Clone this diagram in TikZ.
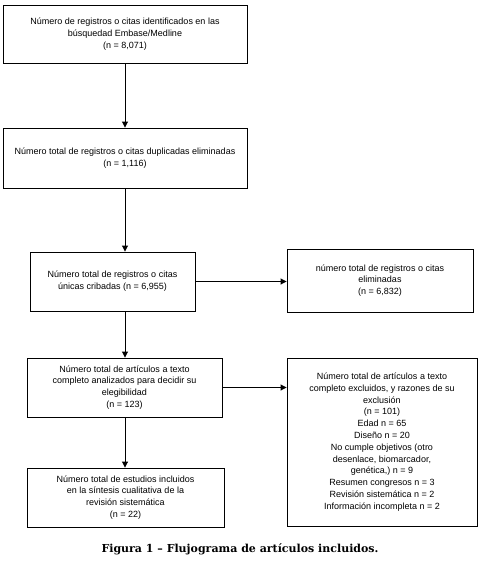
\documentclass[tikz,border=0pt]{standalone}
\usepackage{fontspec}
\setmainfont{Liberation Sans}
\newfontfamily\capfont{DejaVu Serif}
\usetikzlibrary{arrows.meta}
\begin{document}
\begin{tikzpicture}[x=1pt,y=-1pt,
  box/.style={draw, line width=0.9pt, rectangle, align=center, inner sep=2pt,
    font=\fontsize{9}{11.8}\selectfont},
  arr/.style={draw, line width=0.9pt, -{Triangle[length=6pt,width=6pt]}},
  caption/.style={font=\capfont\bfseries\fontsize{11}{13}\selectfont}]
\useasboundingbox (0,0) rectangle (487,566);
\node[box, minimum width=244pt, minimum height=58pt] (b1) at (125,34)
  {Número de registros o citas identificados en las\\búsquedad Embase/Medline\\(n = 8,071)};
\node[box, minimum width=244pt, minimum height=60pt] (b2) at (125,158)
  {Número total de registros o citas duplicadas eliminadas\\(n = 1,116)};
\node[box, minimum width=165pt, minimum height=59pt] (b3) at (112.5,281.5)
  {Número total de registros o citas\\únicas cribadas (n = 6,955)};
\node[box, minimum width=186pt, minimum height=63pt] (r1) at (380,280.5)
  {número total de registros o citas\\eliminadas\\(n = 6,832)};
\node[box, minimum width=195pt, minimum height=59pt] (b4) at (124.5,387.5)
  {Número total de artículos a texto\\completo analizados para decidir su\\elegibilidad\\(n = 123)};
\node[box, minimum width=190pt, minimum height=168pt] (r2) at (382,442)
  {Número total de artículos a texto\\completo excluidos, y razones de su\\exclusión\\(n = 101)\\Edad n = 65\\Diseño n = 20\\No cumple objetivos (otro\\desenlace, biomarcador,\\genética,) n = 9\\Resumen congresos n = 3\\Revisión sistemática n = 2\\Información incompleta n = 2};
\node[box, minimum width=197pt, minimum height=59pt] (b5) at (125.5,497.5)
  {Número total de estudios incluidos\\en la síntesis cualitativa de la\\revisión sistemática\\(n = 22)};
\draw[arr] (b1.south) -- (b1.south |- b2.north);
\draw[arr] (b2.south) -- (b2.south |- b3.north);
\draw[arr] (b2.south |- b3.south) -- (b2.south |- b4.north);
\draw[arr] (b2.south |- b4.south) -- (b2.south |- b5.north);
\draw[arr] (b3.east) -- (b3.east -| r1.west);
\draw[arr] (b4.east) -- (b4.east -| r2.west);
\node[caption] (cap) at (240,549) {Figura 1 – Flujograma de artículos incluidos.};
\end{tikzpicture}
\end{document}
